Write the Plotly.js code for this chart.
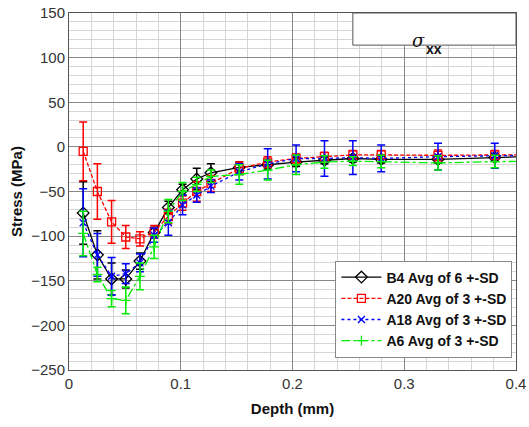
<!DOCTYPE html>
<html><head><meta charset="utf-8">
<script src="https://cdn.plot.ly/plotly-3.0.1.min.js"></script>
<style>html,body{margin:0;padding:0;background:#fff}#c{width:529px;height:427px}</style>
</head><body><div id="c"></div>
<script>
const depth = [0.0127,0.0254,0.0381,0.0508,0.0635,0.0762,0.0889,0.1016,0.1143,0.127,0.1524,0.1778,0.2032,0.2286,0.254,0.2794,0.3302,0.381,0.4318];
const b4 =    [-74,-121,-148,-148,-128,-96,-68,-48,-36,-29,-23,-20,-17,-15,-13,-14,-14,-12,-10];
const b4Err = [35,27,18,10,9,6,7,6,12,10,6,5,5,4,4,4,4,4,4];
const a20 =   [-5,-50,-84,-101,-103,-95,-78,-63,-50,-41,-24,-17,-13,-11,-9,-9,-9.5,-9,-9];
const a20Err =[33,31,24,13,8,7,8,8,11,9,7,6,5,5,5,5,6,5,5];
const a18 =   [-85,-121,-145,-142,-130,-99,-85,-65,-54,-44,-28,-19,-13,-13,-12,-13,-11,-10,-9];
const a18Err =[38,24,21,11,10,8,14,11,8,7,9,17,15,20,19,15,15,14,14];
const a6 =    [-97,-143,-170,-172,-145,-112,-72,-50,-42,-33,-31,-26,-20,-17,-16,-16.5,-18,-16.5,-16];
const a6Err = [25,8,9,15,15,13,13,10,8,7,11,11,11,7,5,7,8,7,7];
const names = ['B4 Avg of 6 +-SD','A20 Avg of 3 +-SD','A18 Avg of 3 +-SD','A6 Avg of 3 +-SD'];

function tr(y, e, name, color, dash, sym, msize){
  return {x: depth, y: y, name: name, type:'scatter', mode:'lines+markers',
    line:{color:color, dash:dash, width:1.3},
    marker:{symbol:sym, size:msize, color:color, line:{color:color, width:1.3}},
    error_y:{type:'data', array:e, visible:true, color:color, thickness:1.5, width:4}};
}
const data = [
  tr(b4, b4Err, names[0], '#000000', 'solid', 'diamond-open', 9),
  tr(a20, a20Err, names[1], '#ff0000', '4px,2px', 'square-open', 8),
  tr(a18, a18Err, names[2], '#0000ff', 'dot', 'x-thin-open', 7),
  tr(a6, a6Err, names[3], '#00ee00', 'dashdot', 'cross-thin-open', 7)
];
const fam = '"Liberation Sans", Arial, sans-serif';
const layout = {
  width:529, height:427,
  margin:{l:69, r:13, t:13, b:57},
  paper_bgcolor:'#fff', plot_bgcolor:'#fff',
  font: {family:fam, size:14, color:'#222'},
  showlegend:true,
  legend:{x:0.992, y:0.035, xanchor:'right', yanchor:'bottom', bgcolor:'#fff',
    bordercolor:'#888', borderwidth:1, font:{size:14, family:fam, color:'#111', weight:'bold'},
    tracegroupgap:0, itemwidth:40},
  xaxis:{range:[0,0.4], dtick:0.1, tick0:0, showgrid:true, gridcolor:'#888', gridwidth:1,
    zeroline:false, showline:true, mirror:true, linecolor:'#555', linewidth:1,
    ticks:'', tickfont:{size:15, color:'#333'},
    minor:{dtick:0.02, showgrid:true, gridcolor:'#d6d6d6', gridwidth:1},
    title:{text:'<b>Depth (mm)</b>', font:{size:15, color:'#111'}, standoff:12}},
  yaxis:{range:[-250,150], dtick:50, tick0:0, showgrid:true, gridcolor:'#888', gridwidth:1,
    zeroline:false, showline:true, mirror:true, linecolor:'#555', linewidth:1,
    ticks:'', tickfont:{size:15, color:'#333'},
    minor:{dtick:10, showgrid:true, gridcolor:'#d6d6d6', gridwidth:1},
    title:{text:'<b>Stress (MPa)</b>', font:{size:15, color:'#111'}, standoff:4}},
  shapes:[{type:'rect', xref:'paper', yref:'paper', x0:0.635, x1:1, y0:0.91, y1:1,
    fillcolor:'#fff', line:{color:'#555', width:1}, layer:'above'}],
  annotations:[
    {xref:'paper', yref:'paper', x:0.802, y:0.958, showarrow:false,
     text:'<i>σ</i>', font:{size:18, color:'#111', family:'"DejaVu Serif", "Liberation Serif", serif'}},
    {xref:'paper', yref:'paper', x:0.838, y:0.928, showarrow:false,
     text:'<b>xx</b>', font:{size:14, color:'#111', family:fam}}]
};
Plotly.newPlot('c', data, layout, {staticPlot:true});
</script></body></html>
